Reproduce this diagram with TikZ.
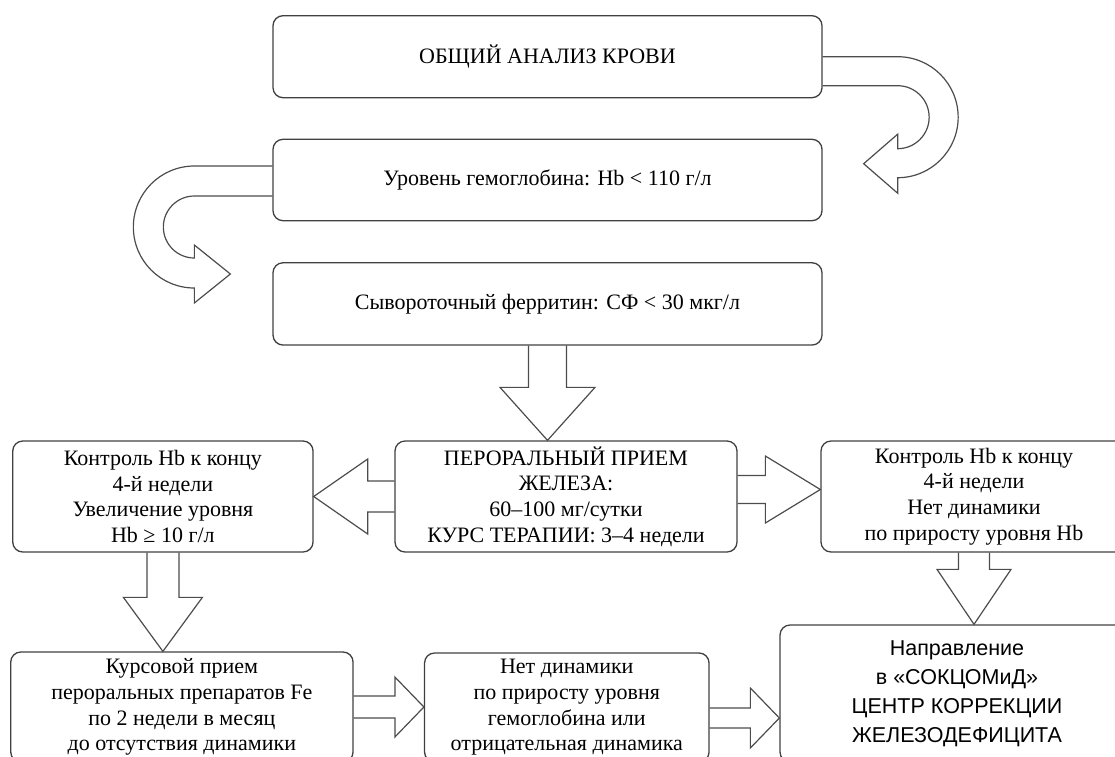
\documentclass[tikz,border=0pt]{standalone}
\usepackage{fontspec}
\setmainfont{Liberation Serif}
\newfontfamily\arialfont{Liberation Sans}
\usetikzlibrary{calc}

% hollow block arrow: start, end, shaft half width, head half width, head length
\newcommand{\blockarrow}[5]{%
  \path (#1) coordinate (ba-s);
  \path (#2) coordinate (ba-e);
  \path ($(ba-e)!#5!(ba-s)$) coordinate (ba-h);
  \draw[blk] ($(ba-s)!#3!90:(ba-e)$) -- ($(ba-h)!#3!90:(ba-e)$) -- ($(ba-h)!#4!90:(ba-e)$) -- (ba-e)
    -- ($(ba-h)!#4!-90:(ba-e)$) -- ($(ba-h)!#3!-90:(ba-e)$) -- ($(ba-s)!#3!-90:(ba-e)$);
}

\begin{document}
\begin{tikzpicture}[x=1pt,y=-1pt,
  box/.style={draw=black!75, line width=1.3pt, rounded corners=10pt, align=center,
    inner sep=0pt, font=\fontsize{22}{25.7}\selectfont},
  blk/.style={draw=black!70, line width=1.2pt, line join=miter}]
  \useasboundingbox (0,0) rectangle (1115,756);
  \clip (0,0) rectangle (1115,756);

  \node[box, minimum width=549pt, minimum height=82pt] (cbc) at (547.5,56.7) {ОБЩИЙ АНАЛИЗ КРОВИ};
  \node[box, minimum width=549pt, minimum height=81.4pt] (hb) at (547.5,180) {Уровень гемоглобина: Hb < 110 г/л};
  \node[box, minimum width=549pt, minimum height=82.3pt] (ferr) at (547.5,303.9) {Сывороточный ферритин: СФ < 30 мкг/л};

  \node[box, minimum width=342pt, minimum height=111pt] (oral) at (566,496.5)
    {ПЕРОРАЛЬНЫЙ ПРИЕМ\\ЖЕЛЕЗА:\\60–100 мг/сутки\\КУРС ТЕРАПИИ: 3–4 недели};
  \node[box, minimum width=300.3pt, minimum height=111pt] (incr) at (162.9,496.5)
    {Контроль Hb к концу\\4-й недели\\Увеличение уровня\\Hb ≥ 10 г/л};
  \node[box, minimum width=306pt, minimum height=111pt] (nodyn) at (974,496.5)
    {Контроль Hb к концу\\4-й недели\\Нет динамики\\по приросту уровня Hb};

  \node[box, minimum width=342.3pt, minimum height=110pt] (course) at (181.9,707)
    {Курсовой прием\\пероральных препаратов Fe\\по 2 недели в месяц\\до отсутствия динамики};
  \node[box, minimum width=284.5pt, minimum height=109pt] (nodyn2) at (566.8,707.5)
    {Нет динамики\\по приросту уровня\\гемоглобина или\\отрицательная динамика};
  \node[box, minimum width=354pt, minimum height=137pt, font=\arialfont\fontsize{21.5}{29}\selectfont] (clinic) at (957,693.5)
    {Направление\\в «СОКЦОМиД»\\ЦЕНТР КОРРЕКЦИИ\\ЖЕЛЕЗОДЕФИЦИТА};

  % curved arrows between the top boxes
  \draw[blk] (cbc.east) -- ++(75,0) arc[start angle=90,end angle=-90,radius=60.5pt]
    -- ++(0,15.5) -- ++(-34,-29.5) -- ++(34,-29.5) -- ++(0,14.5)
    arc[start angle=-90,end angle=90,radius=31.5pt] -- ++(-75,0);
  \draw[blk] ($(hb.west)+(0,-14)$) -- ++(-78,0) arc[start angle=90,end angle=270,radius=61pt]
    -- ++(0,15) -- ++(36,-29) -- ++(-36,-29) -- ++(0,13)
    arc[start angle=270,end angle=90,radius=31pt] -- ++(78,0);

  % straight block arrows
  \blockarrow{ferr.south}{ferr.south |- oral.north}{19pt}{47.5pt}{53pt}
  \blockarrow{oral.west}{oral.west -| incr.east}{15.5pt}{37.5pt}{54pt}
  \coordinate (o-r) at ($(oral.east)+(0,-7)$);
  \blockarrow{o-r}{o-r -| nodyn.west}{14pt}{33.5pt}{55pt}
  \blockarrow{incr.south}{incr.south |- course.north}{16pt}{39.5pt}{54pt}
  \blockarrow{nodyn.south}{nodyn.south |- clinic.north}{15.5pt}{37pt}{55pt}
  \blockarrow{course.east}{course.east -| nodyn2.west}{11pt}{30pt}{29pt}
  \coordinate (n2-r) at ($(nodyn2.east)+(0,10.5)$);
  \blockarrow{n2-r}{n2-r -| clinic.west}{10pt}{30pt}{29pt}
\end{tikzpicture}
\end{document}
